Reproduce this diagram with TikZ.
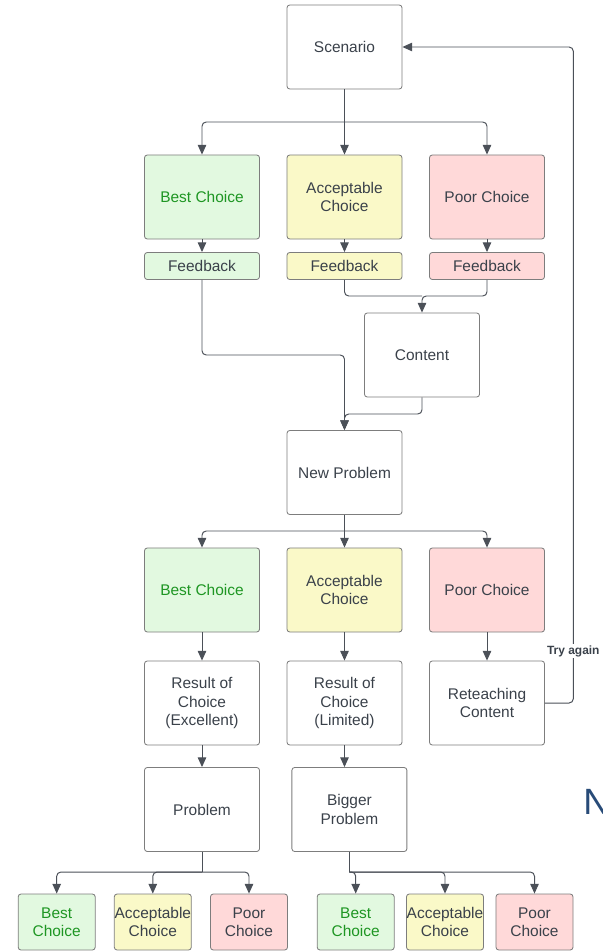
\documentclass[tikz,border=0pt]{standalone}
\usepackage{fontspec}
\setmainfont{Liberation Sans}
\usetikzlibrary{arrows.meta}
\definecolor{ink}{RGB}{58,65,74}
\definecolor{linegray}{RGB}{75,80,88}
\definecolor{rim}{RGB}{125,125,125}
\definecolor{bestfill}{RGB}{226,249,224}
\definecolor{accfill}{RGB}{250,249,200}
\definecolor{poorfill}{RGB}{255,217,217}
\definecolor{besttext}{RGB}{30,150,35}
\definecolor{slideblue}{RGB}{40,75,120}
\begin{document}
\begin{tikzpicture}[x=0.025cm,y=-0.025cm]
    \tikzset{box/.style = {shape=rectangle,draw=rim,line width=0.6pt,rounded corners=2pt,minimum width=2.875cm,minimum height=2.1cm,align=center,text=ink,inner sep=1pt,font=\fontsize{11}{13}\selectfont}}
    \tikzset{fbbox/.style = {box,minimum height=0.675cm}}
    \tikzset{small/.style = {box,minimum width=1.925cm,minimum height=1.4cm,inner sep=0pt}}
    \tikzset{best/.style = {fill=bestfill,text=besttext}}
    \tikzset{acc/.style = {fill=accfill}}
    \tikzset{poor/.style = {fill=poorfill}}
    \tikzset{link/.style = {draw=linegray,line width=0.7pt,rounded corners=3pt}}
    \tikzset{arrow/.style = {link,-{Triangle[length=2.4mm,width=2.1mm]}}}
    \useasboundingbox (0,0) rectangle (603,952);
    % scenario and first choices
    \node[box] (scen) at (344.5,47) {Scenario};
    \node[box,best] (best1) at (202,197) {Best Choice};
    \node[box,acc] (acc1) at (344.5,197) {Acceptable\\Choice};
    \node[box,poor] (poor1) at (487,197) {Poor Choice};
    \node[fbbox,best,text=ink] (fb1) at (202,266) {Feedback};
    \node[fbbox,acc] (fb2) at (344.5,266) {Feedback};
    \node[fbbox,poor] (fb3) at (487,266) {Feedback};
    \node[box] (cont) at (422,355) {Content};
    \node[box] (newp) at (344.5,472.5) {New Problem};
    % second choices
    \node[box,best] (best2) at (202,590) {Best Choice};
    \node[box,acc] (acc2) at (344.5,590) {Acceptable\\Choice};
    \node[box,poor] (poor2) at (487,590) {Poor Choice};
    \node[box] (res1) at (202,703) {Result of\\Choice\\(Excellent)};
    \node[box] (res2) at (344.5,703) {Result of\\Choice\\(Limited)};
    \node[box] (reteach) at (487,703) {Reteaching\\Content};
    \node[box] (prob) at (202,809.5) {Problem};
    \node[box] (bigp) at (349.4,809.5) {Bigger\\Problem};
    % third choices
    \node[small,best] (best3) at (56.7,922) {Best\\Choice};
    \node[small,acc] (acc3) at (152.8,922) {Acceptable\\Choice};
    \node[small,poor] (poor3) at (249,922) {Poor\\Choice};
    \node[small,best] (best4) at (355.7,922) {Best\\Choice};
    \node[small,acc] (acc4) at (445,922) {Acceptable\\Choice};
    \node[small,poor] (poor4) at (534.5,922) {Poor\\Choice};
    % branch points
    \coordinate (s1) at (344.5,122);
    \coordinate (m1) at (422,296);
    \coordinate (j1) at (344.5,355);
    \coordinate (j2) at (344.5,414);
    \coordinate (s2) at (344.5,531);
    \coordinate (loop) at (573.3,47);
    \coordinate (s3) at (202,872);
    \coordinate (s4) at (349.4,872);
    % connectors
    \draw[link] (scen.south) -- (s1);
    \draw[arrow] (s1) -| (best1.north);
    \draw[arrow] (s1) -- (acc1.north);
    \draw[arrow] (s1) -| (poor1.north);
    \draw[arrow] (best1) -- (fb1);
    \draw[arrow] (acc1) -- (fb2);
    \draw[arrow] (poor1) -- (fb3);
    \draw[link] (fb2.south) |- (m1);
    \draw[arrow] (fb3.south) |- (m1) -- (cont.north);
    \draw[arrow] (fb1.south) |- (j1) -- (newp.north);
    \draw[arrow] (cont.south) |- (j2) -- (newp.north);
    \draw[link] (newp.south) -- (s2);
    \draw[arrow] (s2) -| (best2.north);
    \draw[arrow] (s2) -- (acc2.north);
    \draw[arrow] (s2) -| (poor2.north);
    \draw[arrow] (best2) -- (res1);
    \draw[arrow] (acc2) -- (res2);
    \draw[arrow] (poor2) -- (reteach);
    \draw[arrow] (reteach.east) -| (loop) -- (scen.east);
    \node[fill=white,inner sep=1pt,text=ink,font=\fontsize{8.5}{10}\selectfont\bfseries] (try) at (573.3,651) {Try again};
    \draw[arrow] (res1) -- (prob);
    \draw[arrow] (res2.south) -- (res2.south |- bigp.north);
    \draw[link] (prob.south) -- (s3);
    \draw[arrow] (s3) -| (best3.north);
    \draw[arrow] (s3) -| (acc3.north);
    \draw[arrow] (s3) -| (poor3.north);
    \draw[link] (bigp.south) -- (s4);
    \draw[arrow] (s4) -| (best4.north);
    \draw[arrow] (s4) -| (acc4.north);
    \draw[arrow] (s4) -| (poor4.north);
    % slide text cut at the edge
    \node[anchor=south west,inner sep=0pt,text=slideblue,font=\fontsize{26}{26}\selectfont] (ntxt) at (583,815) {N};
\end{tikzpicture}
\end{document}
